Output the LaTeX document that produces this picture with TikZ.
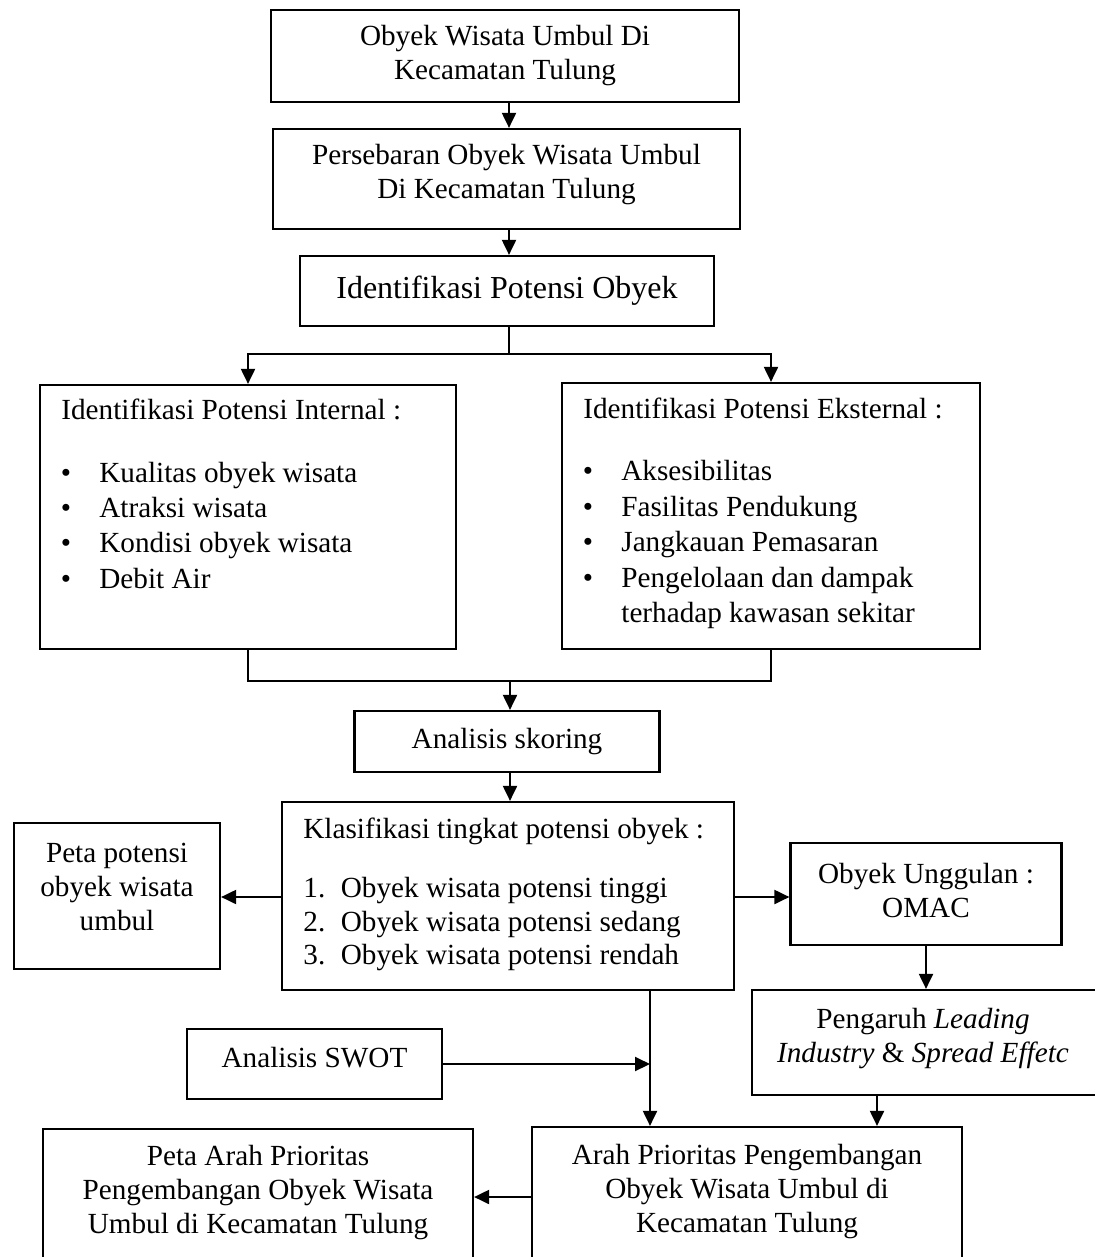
\documentclass[tikz,border=0pt]{standalone}
\usepackage{fontspec}
\setmainfont{Liberation Serif}
\usetikzlibrary{arrows.meta}
\newcommand{\fsmain}{\fontsize{14.6}{17}\selectfont}
\newcommand{\fsbig}{\fontsize{16}{19}\selectfont}
\tikzset{
  boxnode/.style={draw, line width=1.1pt, inner sep=0pt, align=center, font=\fsmain},
  txt/.style={inner sep=0pt, align=center, font=\fsmain},
  conn/.style={line width=1pt},
  arr/.style={line width=1pt, -{Triangle[length=7.5pt,width=7pt]}},
}
\begin{document}
\begin{tikzpicture}[x=0.5pt,y=-0.5pt]
\useasboundingbox (0,0) rectangle (1094,1257);
% boxes
\node[boxnode, minimum width=234pt, minimum height=46pt] (b1) at (505,56) {Obyek Wisata Umbul Di\\Kecamatan Tulung};
\node[boxnode, minimum width=233.5pt, minimum height=50pt] (b2) at (506.5,179) {};
\node[txt] (t2) at (506.5,174.5) {Persebaran Obyek Wisata Umbul\\Di Kecamatan Tulung};
\node[boxnode, minimum width=207pt, minimum height=35pt, font=\fsbig] (b3) at (507,291) {Identifikasi Potensi Obyek};
\node[boxnode, minimum width=208pt, minimum height=132pt] (bl) at (248,517) {};
\node[boxnode, minimum width=209pt, minimum height=133pt] (br) at (771,516) {};
\node[boxnode, minimum width=152.5pt, minimum height=30.5pt] (skor) at (507,741.5) {Analisis skoring};
\node[boxnode, minimum width=226pt, minimum height=94pt] (klas) at (508,896) {};
\node[boxnode, minimum width=103pt, minimum height=73pt] (peta) at (117,896) {};
\node[boxnode, minimum width=135.5pt, minimum height=51pt] (ungg) at (926,894) {};
\node[boxnode, minimum width=179pt, minimum height=52.5pt] (peng) at (931,1042.5) {};
\node[boxnode, minimum width=127.5pt, minimum height=35pt] (swot) at (314.5,1064) {};
\node[boxnode, minimum width=215pt, minimum height=74pt] (arah) at (747,1201) {};
\node[boxnode, minimum width=215pt, minimum height=73pt] (parah) at (258,1202) {};
% texts
\node[txt, anchor=base west] (tl0) at (61,419) {Identifikasi Potensi Internal :};
\foreach \y/\s [count=\i] in {482/Kualitas obyek wisata, 517/Atraksi wisata, 552/Kondisi obyek wisata, 588/Debit Air}{
  \node[txt, anchor=base] (blb\i) at (66,\y) {\textbullet};
  \node[txt, anchor=base west] (blt\i) at (99,\y) {\s};
}
\node[txt, anchor=base west] (tr0) at (583,418) {Identifikasi Potensi Eksternal :};
\foreach \y/\s [count=\i] in {480/Aksesibilitas, 516/Fasilitas Pendukung, 551/Jangkauan Pemasaran, 587/Pengelolaan dan dampak}{
  \node[txt, anchor=base] (brb\i) at (588,\y) {\textbullet};
  \node[txt, anchor=base west] (brt\i) at (621,\y) {\s};
}
\node[txt, anchor=base west] (brt5) at (621,622) {terhadap kawasan sekitar};
\node[txt, anchor=base west] (tk0) at (303,838) {Klasifikasi tingkat potensi obyek :};
\foreach \y/\s [count=\i] in {897/tinggi, 931/sedang, 964/rendah}{
  \node[txt, anchor=base west] (tkn\i) at (303,\y) {\i.};
  \node[txt, anchor=base west] (tkt\i) at (340.5,\y) {Obyek wisata potensi \s};
}
\node[txt] (tp) at (117,887) {Peta potensi\\obyek wisata\\umbul};
\node[txt] (tu) at (926,891) {Obyek Unggulan :\\OMAC};
\node[txt] (tpg) at (923,1039) {Pengaruh \textit{Leading}\\\textit{Industry} \& \textit{Spread Effetc}};
\node[txt] (ts) at (314.5,1058) {Analisis SWOT};
\node[txt] (ta) at (747,1191.5) {Arah Prioritas Pengembangan\\Obyek Wisata Umbul di\\Kecamatan Tulung};
\node[txt] (tpa) at (258,1193) {Peta Arah Prioritas\\Pengembangan Obyek Wisata\\Umbul di Kecamatan Tulung};
% helper coordinates
\coordinate (m1) at (509,354);
\coordinate (m2) at (510,681);
\coordinate (kx) at (650,0);
\coordinate (px) at (877,0);
\coordinate (ay) at (0,1197);
\coordinate (ky) at (0,897);
% connectors
\draw[arr] (b1.south -| m1) -- (b2.north -| m1);
\draw[arr] (b2.south -| m1) -- (b3.north -| m1);
\draw[conn] (b3.south -| m1) -- (m1);
\draw[arr] (m1) -| (bl.north);
\draw[arr] (m1) -| (br.north);
\draw[conn] (bl.south) |- (m2) -| (br.south);
\draw[arr] (m2) -- (m2 |- skor.north);
\draw[arr] (skor.south -| m2) -- (klas.north -| m2);
\draw[arr] (ky -| klas.west) -- (ky -| peta.east);
\draw[arr] (ky -| klas.east) -- (ky -| ungg.west);
\draw[arr] (ungg.south) -- (ungg.south |- peng.north);
\draw[arr] (kx |- klas.south) -- (kx |- arah.north);
\draw[arr] (swot.east) -- (kx |- swot.east);
\draw[arr] (px |- peng.south) -- (px |- arah.north);
\draw[arr] (ay -| arah.west) -- (ay -| parah.east);
\end{tikzpicture}
\end{document}
